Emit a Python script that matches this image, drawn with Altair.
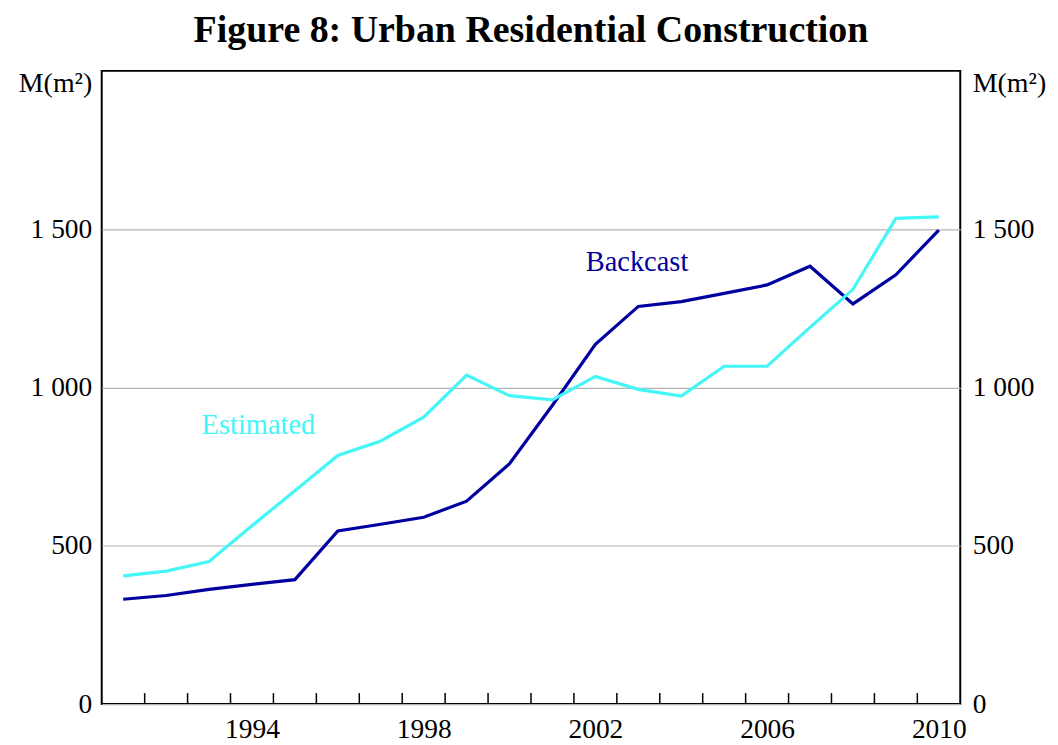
import altair as alt
import pandas as pd

years = list(range(1991, 2011))
backcast = [331, 343, 362, 378, 393, 547, 568, 590, 641, 759, 944, 1136, 1256, 1271, 1297, 1324, 1383, 1264, 1356, 1497]
estimated = [405, 420, 450, 563, 674, 785, 831, 906, 1039, 974, 961, 1035, 994, 973, 1067, 1067, 1190, 1310, 1534, 1539]
series_names = ["Backcast", "Estimated"]
series_colors = ["#0000a0", "#44f6f6"]
y_ticks = [0, 500, 1000, 1500]
x_label_years = [1994, 1998, 2002, 2006, 2010]
tick_years = list(range(1992, 2011))
label_text = ["Backcast", "Estimated"]
label_x = [2003.47, 1994.65]
label_y = [1367, 853]

FONT = "Liberation Serif"
W, H = 861, 635

rows = []
for i, yr in enumerate(years):
    rows.append({"pos": yr + 0.5, "value": backcast[i], "series": "Backcast"})
    rows.append({"pos": yr + 0.5, "value": estimated[i], "series": "Estimated"})
df = pd.DataFrame(rows)

xscale = alt.Scale(domain=[1991, 2011], nice=False, zero=False)
yscale = alt.Scale(domain=[0, 2000], nice=False, zero=True)
cscale = alt.Scale(domain=series_names, range=series_colors)
lab_expr = "replace(format(datum.value, ','), ',', ' ')"

xaxis = alt.Axis(values=[y + 0.5 for y in x_label_years], labelExpr="toString(floor(datum.value))",
                 ticks=False, grid=False, domain=False, title=None, labelOverlap=False,
                 labelFont=FONT, labelFontSize=27.5, labelPadding=12, labelColor="black")

lines = alt.Chart(df).mark_line(strokeWidth=3.2).encode(
    x=alt.X("pos:Q", scale=xscale, axis=xaxis),
    y=alt.Y("value:Q", scale=yscale,
            axis=alt.Axis(orient="left", values=y_ticks, labelExpr=lab_expr, ticks=False, domain=False,
                          grid=True, gridColor="#b3b3b3", gridWidth=1.2,
                          labelFont=FONT, labelFontSize=27.5, labelPadding=10, labelColor="black",
                          title="M(m²)", titleAngle=0, titleAlign="right", titleBaseline="alphabetic",
                          titleX=-10, titleY=21, titleFont=FONT, titleFontSize=28,
                          titleFontWeight="normal", titleColor="black")),
    color=alt.Color("series:N", scale=cscale, legend=None),
    detail="series:N",
)

right = alt.Chart(df).mark_line(opacity=0).encode(
    x=alt.X("pos:Q", scale=xscale, axis=xaxis),
    y=alt.Y("value:Q", scale=yscale,
            axis=alt.Axis(orient="right", values=y_ticks, labelExpr=lab_expr, ticks=False, domain=False,
                          grid=False,
                          labelFont=FONT, labelFontSize=27.5, labelPadding=12, labelColor="black",
                          title="M(m²)", titleAngle=0, titleAlign="left", titleBaseline="alphabetic",
                          titleX=12, titleY=21, titleFont=FONT, titleFontSize=28,
                          titleFontWeight="normal", titleColor="black")),
    detail="series:N",
)

ticks = alt.Chart(pd.DataFrame({"pos": tick_years})).mark_rule(color="black", strokeWidth=1.5).encode(
    x=alt.X("pos:Q", scale=xscale, axis=xaxis),
    y=alt.value(H),
    y2=alt.value(H - 11),
)

labels = alt.Chart(pd.DataFrame({"text": label_text, "pos": label_x, "y": label_y, "series": label_text})).mark_text(
    font=FONT, fontSize=28.5, align="center", baseline="alphabetic"
).encode(
    x=alt.X("pos:Q", scale=xscale, axis=xaxis),
    y=alt.Y("y:Q", scale=yscale, axis=None),
    text="text:N",
    color=alt.Color("series:N", scale=cscale, legend=None),
)

chart = alt.layer(lines, right, ticks, labels).resolve_scale(y="independent").properties(
    width=W, height=H,
    autosize="none",
    padding={"left": 94, "top": 62, "right": 90, "bottom": 38},
    title=alt.Title("Figure 8: Urban Residential Construction", font=FONT, fontSize=38,
                    fontWeight="bold", color="black", anchor="middle", offset=20),
    background="white",
).configure_view(stroke="black", strokeWidth=2)

chart.save("out.html", embed_options={"renderer": "svg", "actions": False})
